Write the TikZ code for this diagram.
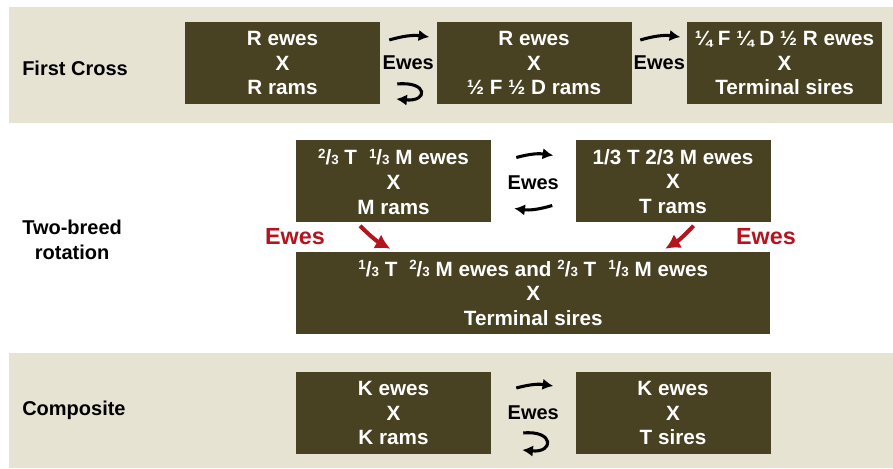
\documentclass[tikz,border=0pt]{standalone}
\usepackage{fontspec}
\setmainfont{Liberation Sans}
\usetikzlibrary{positioning,arrows.meta,calc}
\definecolor{cBand}{HTML}{E6E3D3}
\definecolor{cBox}{HTML}{484222}
\definecolor{cRed}{HTML}{B4141E}
\newcommand{\frc}[2]{\raisebox{0.62ex}{\fontsize{10}{10}\selectfont #1}/{\fontsize{10}{10}\selectfont #2}}
\tikzset{
  band/.style   ={fill=cBand, draw=none},
  box/.style    ={fill=cBox, text=white, align=center, inner sep=0pt,
                  font=\fontsize{15.5}{18.5}\selectfont\bfseries,
                  minimum width=146.25pt, minimum height=61.5pt},
  rowlbl/.style ={anchor=west, align=center, inner sep=0pt,
                  font=\fontsize{15}{18.5}\selectfont\bfseries},
  ewe/.style    ={inner sep=0pt, font=\fontsize{15}{18}\selectfont\bfseries},
  redlbl/.style ={ewe, text=cRed, font=\fontsize{17.5}{20}\selectfont\bfseries},
  arr/.style    ={-{Latex[length=8pt,width=8.5pt]}, line width=2.3pt},
  redarr/.style ={-{Latex[length=11pt,width=12pt]}, line width=3pt, draw=cRed},
}

\begin{document}
\begin{tikzpicture}[x=0.75pt, y=0.75pt]
\useasboundingbox (0,0) rectangle (893,468);
% background bands
\fill[band] (9,345) rectangle (893,461);
\fill[band] (9,0) rectangle (893,115);

% first cross
\node[rowlbl] (fc) at (22,400) {First Cross};
\node[box] (b1) at (282.5,405) {R ewes\\ X\\ R rams};
\node[box, right=42pt of b1] (b2) {R ewes\\ X\\ ½ F ½ D rams};
\node[box, right=41.25pt of b2] (b3) {¼ F ¼ D ½ R ewes\\ X\\ Terminal sires};
\node[ewe] (e1) at ($(b1.east)!0.5!(b2.west)$) {Ewes};
\node[ewe] (e2) at ($(b2.east)!0.5!(b3.west)$) {Ewes};

% two-breed rotation
\node[rowlbl] (tb) at (22,228) {Two-breed\\ rotation};
\node[box] (ra) at (393.5,286.5) {\frc{2}{3} T\hspace{0.3em} \frc{1}{3} M ewes\\ X\\ M rams};
\node[box, right=63pt of ra] (rb) {1/3 T 2/3 M ewes\\ X\\ T rams};
\coordinate (mid) at ($(ra.south)!0.5!(rb.south)$);
\node[box, minimum width=355.5pt, below=21.75pt of mid] (rc)
   {\frc{1}{3} T\hspace{0.3em} \frc{2}{3} M ewes and \frc{2}{3} T\hspace{0.3em} \frc{1}{3} M ewes\\ X\\ Terminal sires};
\node[ewe] (eR) at ($(ra.east)!0.5!(rb.west)+(0,-1)$) {Ewes};
\node[redlbl] (rl) at (295,231) {Ewes};
\node[redlbl] (rr) at (766,231) {Ewes};

% composite
\node[rowlbl] (cp) at (22,58) {Composite};
\node[box] (k1) at (393.5,55) {K ewes\\ X\\ K rams};
\node[box, right=63pt of k1] (k2) {K ewes\\ X\\ T sires};
\node[ewe] (eK) at ($(k1.east)!0.5!(k2.west)$) {Ewes};

% small ewe arrows
\draw[arr] ($(e1)+(-19,23)$) to[bend left=12] ($(e1)+(21,26)$);
\draw[arr] ($(e1)+(-11,-21)$) .. controls ($(e1)+(20,-18)$) and ($(e1)+(20,-39)$) .. ($(e1)+(-12,-36)$);
\draw[arr] ($(e2)+(-19,23)$) to[bend left=12] ($(e2)+(21,26)$);
\draw[arr] ($(eR)+(-17,25)$) to[bend left=12] ($(eR)+(20,27)$);
\draw[arr] ($(eR)+(19,-23)$) to[bend left=12] ($(eR)+(-19,-26)$);
\draw[arr] ($(eK)+(-17,25)$) to[bend left=12] ($(eK)+(20,27)$);
\draw[arr] ($(eK)+(-10,-20)$) .. controls ($(eK)+(21,-17)$) and ($(eK)+(21,-40)$) .. ($(eK)+(-11,-37)$);

% red arrows into terminal cross
\draw[redarr] ($(ra.south)+(-33.5,-3)$) to[bend right=8] ($(rc.north)+(-143,3)$);
\draw[redarr] ($(rb.south)+(20.5,-3)$) to[bend left=8] ($(rc.north)+(132,3)$);
\end{tikzpicture}
\end{document}
